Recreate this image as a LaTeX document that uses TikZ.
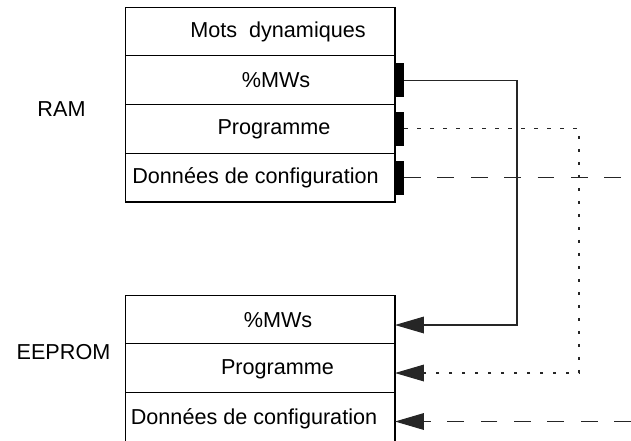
\documentclass[tikz,border=0pt]{standalone}
\usepackage{fontspec}
\setmainfont{Liberation Sans}
\usetikzlibrary{positioning}
\usetikzlibrary{arrows.meta}
\tikzset{
    memrow/.style = {rectangle, draw=black, line width=0.6pt, minimum width=5.4cm, minimum height=0.975cm, inner sep=0pt, outer sep=0pt},
    memtext/.style = {font=\fontsize{12.3}{14}\selectfont, inner sep=0pt},
    memlabel/.style = {font=\fontsize{12.3}{14}\selectfont, inner sep=0pt},
    bar/.style = {rectangle, fill=black, minimum width=0.18cm, minimum height=0.68cm, inner sep=0pt, outer sep=0pt},
    tip/.style = {-{Triangle[length=16.5pt,width=9.5pt]}},
    solidlink/.style = {line width=0.6pt, black!85},
    dottedlink/.style = {line width=0.6pt, black!85, dash pattern=on 2pt off 5.4pt},
    dashedlink/.style = {line width=0.6pt, black!85, dash pattern=on 9.6pt off 9.4pt}, % configuration
}

\begin{document}
\begin{tikzpicture}[x=0.02cm,y=-0.02cm]
\useasboundingbox (0,0) rectangle (631,440);
% RAM
\node[memrow] at (260, 31.4) (ramdyn) {};
\node[memrow] at (260, 80.1) (rammw) {};
\node[memrow] at (260, 128.9) (ramprog) {};
\node[memrow] at (260, 177.6) (ramconf) {};
\node[memtext] at (278, 32) (tdyn) {Mots~~dynamiques};
\node[memtext] at (276, 80.1) (tmw) {\%MWs};
\node[memtext] at (274, 129) (tprog) {Programme};
\node[memtext] at (255.5, 178) (tconf) {Données de configuration};
\node[memlabel] at (61.5, 109.5) (ram) {RAM};
\node[bar] at (399.5, 80.1) (barmw) {};
\node[bar] at (399.5, 128.9) (barprog) {};
\node[bar] at (399.5, 177.6) (barconf) {};
% EEPROM
\node[memrow] at (260, 319.4) (eemw) {};
\node[memrow] at (260, 368.1) (eeprog) {};
\node[memrow] at (260, 416.9) (eeconf) {};
\node[memtext] at (278, 320) (temw) {\%MWs};
\node[memtext] at (277.5, 369.5) (teprog) {Programme};
\node[memtext] at (254, 419) (teconf) {Données de configuration};
\node[memlabel] at (63.5, 352) (eeprom) {EEPROM};
%
\coordinate (mwin) at (517, 325);
\coordinate (progin) at (579, 373);
\coordinate (confout) at (631, 177.6);
\coordinate (confin) at (631, 421.5);
\draw[solidlink,tip] (barmw.east) -| (mwin) -- (mwin -| eemw.east);
\draw[dottedlink,tip] (barprog.east) -| (progin) -- (progin -| eeprog.east);
\draw[dashedlink] (barconf.east) -- (confout);
\draw[dashedlink,tip] (confin) -- (confin -| eeconf.east);

\end{tikzpicture}
\end{document}
